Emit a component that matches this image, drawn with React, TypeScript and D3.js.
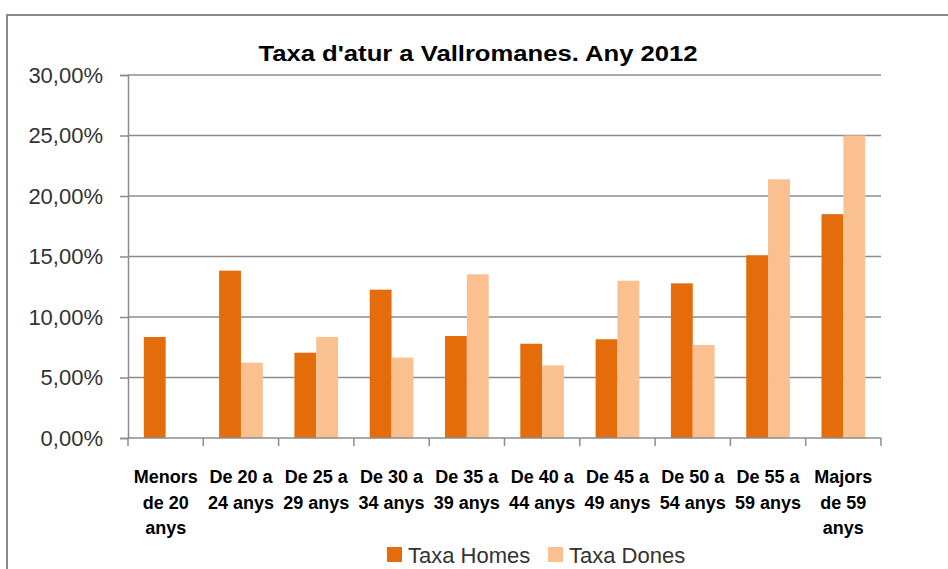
import { useEffect, useRef } from 'react';
import * as d3 from 'd3';

const categories = [
  ['Menors', 'de 20', 'anys'],
  ['De 20 a', '24 anys'],
  ['De 25 a', '29 anys'],
  ['De 30 a', '34 anys'],
  ['De 35 a', '39 anys'],
  ['De 40 a', '44 anys'],
  ['De 45 a', '49 anys'],
  ['De 50 a', '54 anys'],
  ['De 55 a', '59 anys'],
  ['Majors', 'de 59', 'anys'],
];
const homes = [8.35, 13.83, 7.05, 12.26, 8.43, 7.79, 8.16, 12.78, 15.1, 18.5];
const dones = [0, 6.22, 8.35, 6.64, 13.53, 6.0, 13.0, 7.69, 21.38, 25.0];
const seriesNames = ['Taxa Homes', 'Taxa Dones'];
const seriesColors = ['#e46c0a', '#fac090'];
const yTicks = [0, 5, 10, 15, 20, 25, 30];

export default function App() {
  const svgRef = useRef<SVGSVGElement>(null);

  useEffect(() => {
    if (!svgRef.current) return;
    const svg = d3.select(svgRef.current);
    svg.selectAll('*').remove();

    const width = 948;
    const height = 569;
    const margin = { top: 75, right: 67, bottom: 131, left: 128 };
    const innerWidth = width - margin.left - margin.right;
    const innerHeight = height - margin.top - margin.bottom;
    const font = '"Liberation Sans", Arial, sans-serif';
    const gridColor = '#8c8c8c';

    // chart frame (left and top edges visible)
    svg.append('path')
      .attr('d', `M7,${height} V15 H${width}`)
      .attr('fill', 'none')
      .attr('stroke', '#8a8a8a')
      .attr('stroke-width', 2);

    svg.append('text')
      .attr('x', 478)
      .attr('y', 61)
      .attr('text-anchor', 'middle')
      .attr('font-family', font)
      .attr('font-weight', 'bold')
      .attr('font-size', 22)
      .attr('textLength', 439)
      .attr('lengthAdjust', 'spacingAndGlyphs')
      .attr('fill', '#000')
      .text("Taxa d'atur a Vallromanes. Any 2012");

    const keys = categories.map((_, i) => String(i));

    const x = d3.scaleBand()
      .domain(keys)
      .range([0, innerWidth])
      .paddingInner(0.42)
      .paddingOuter(0.21);

    const xSub = d3.scaleBand()
      .domain(seriesNames)
      .range([0, x.bandwidth()]);

    const y = d3.scaleLinear()
      .domain([0, 30])
      .range([innerHeight, 0]);

    const g = svg.append('g')
      .attr('transform', `translate(${margin.left},${margin.top})`);

    // grid lines
    g.append('g')
      .selectAll('line')
      .data(yTicks.filter(t => t > 0))
      .enter()
      .append('line')
      .attr('x1', 0)
      .attr('x2', innerWidth)
      .attr('y1', d => y(d))
      .attr('y2', d => y(d))
      .attr('stroke', gridColor)
      .attr('stroke-width', 1.5);

    // y axis
    const yAxis = g.append('g')
      .call(d3.axisLeft(y)
        .tickValues(yTicks)
        .tickSize(8)
        .tickPadding(17)
        .tickFormat(d => (d as number).toFixed(2).replace('.', ',') + '%'));
    yAxis.selectAll('.domain').attr('stroke', gridColor).attr('stroke-width', 1.5);
    yAxis.selectAll('.tick line').attr('stroke', gridColor).attr('stroke-width', 1.5);
    yAxis.selectAll('text')
      .attr('font-family', font)
      .attr('font-size', 22)
      .attr('fill', '#333');

    // bars
    const rows = keys.map((k, i) => ({ key: k, values: [homes[i], dones[i]] }));
    g.append('g')
      .selectAll('g')
      .data(rows)
      .enter()
      .append('g')
      .attr('transform', d => `translate(${x(d.key)},0)`)
      .selectAll('rect')
      .data(d => d.values.map((v, j) => ({ name: seriesNames[j], value: v, color: seriesColors[j] })))
      .enter()
      .append('rect')
      .filter(d => d.value > 0)
      .attr('x', d => xSub(d.name) || 0)
      .attr('width', xSub.bandwidth())
      .attr('y', d => y(d.value))
      .attr('height', d => innerHeight - y(d.value))
      .attr('fill', d => d.color);

    // x axis line and category ticks
    g.append('line')
      .attr('x1', 0)
      .attr('x2', innerWidth)
      .attr('y1', innerHeight)
      .attr('y2', innerHeight)
      .attr('stroke', gridColor)
      .attr('stroke-width', 1.5);

    const step = x.step();
    const x0 = (x(keys[0]) || 0) - step * x.paddingOuter();
    g.append('g')
      .selectAll('line')
      .data(d3.range(keys.length + 1))
      .enter()
      .append('line')
      .attr('x1', i => x0 + i * step)
      .attr('x2', i => x0 + i * step)
      .attr('y1', innerHeight)
      .attr('y2', innerHeight + 8)
      .attr('stroke', gridColor)
      .attr('stroke-width', 1.5);

    // category labels
    const labels = g.append('g')
      .selectAll('text')
      .data(rows)
      .enter()
      .append('text')
      .attr('text-anchor', 'middle')
      .attr('font-family', font)
      .attr('font-weight', 'bold')
      .attr('font-size', 18)
      .attr('fill', '#000')
      .attr('transform', d => `translate(${(x(d.key) || 0) + x.bandwidth() / 2},${innerHeight + 45})`);
    labels.selectAll('tspan')
      .data((d, i) => categories[i].map((line, j) => ({ line, j })))
      .enter()
      .append('tspan')
      .attr('x', 0)
      .attr('y', d => d.j * 25.5)
      .text(d => d.line);

    // legend
    const legend = svg.append('g').attr('transform', 'translate(387,547)');
    const legendOffsets = [0, 161];
    seriesNames.forEach((name, i) => {
      const item = legend.append('g').attr('transform', `translate(${legendOffsets[i]},0)`);
      item.append('rect')
        .attr('width', 15)
        .attr('height', 15)
        .attr('fill', seriesColors[i]);
      item.append('text')
        .attr('x', 21)
        .attr('y', 16)
        .attr('font-family', font)
        .attr('font-size', 22)
        .attr('fill', '#333')
        .text(name);
    });
  }, []);

  return (
    <svg
      ref={svgRef}
      width={948}
      height={569}
      style={{ position: 'absolute', left: 0, top: 0, background: '#fff' }}
    />
  );
}
